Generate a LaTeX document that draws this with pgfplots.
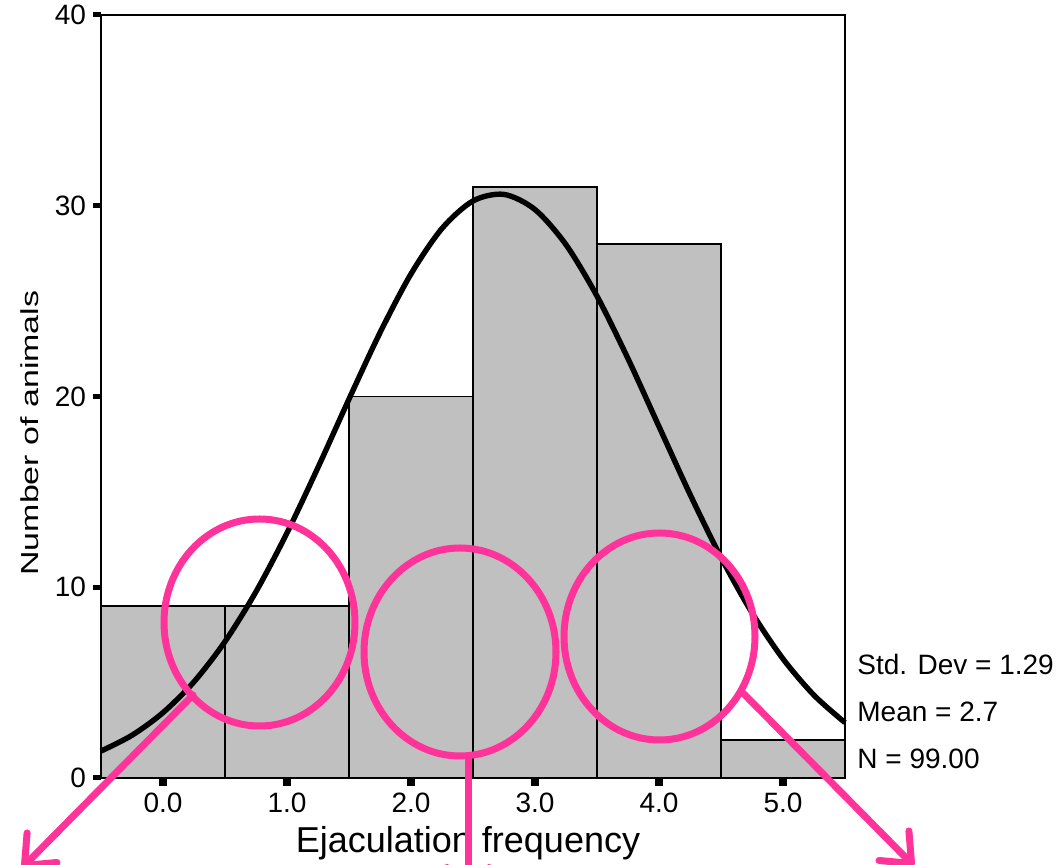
\documentclass[border=0pt]{standalone}
\usepackage{pgfplots}
\pgfplotsset{compat=1.18}
\usepackage{graphicx}
\usepackage{fontspec}
\setmainfont{Liberation Sans}
\usetikzlibrary{arrows.meta}
\definecolor{barg}{RGB}{192,192,192}
\definecolor{pinkc}{RGB}{255,51,153}
\begin{document}
\begin{tikzpicture}
\useasboundingbox (-50.5pt,-43.5pt) rectangle (479.5pt,389pt);
\begin{axis}[
  scale only axis, width=372pt, height=381.5pt,
  xmin=-0.5, xmax=5.5, ymin=0, ymax=40,
  xtick={0,1,2,3,4,5}, xticklabels={0.0,1.0,2.0,3.0,4.0,5.0},
  ytick={0,10,20,30,40},
  /pgf/number format/assume math mode=true,
  xtick pos=left, ytick pos=left,
  tick align=outside,
  major tick length=4pt,
  xtick style={black, line width=4.2pt},
  ytick style={black, line width=2.5pt},
  axis line style={black, line width=1pt},
  tick label style={font=\fontsize{14}{16}\selectfont},
  xlabel={Ejaculation frequency},
  ylabel={\scalebox{1.38}[1]{Number of animals}},
  xlabel style={font=\fontsize{18}{20}\selectfont, at={(axis description cs:0.4933,-0.0983)}, anchor=base},
  ylabel style={font=\fontsize{12.3}{14}\selectfont, at={(axis description cs:-0.0954,0.452)}, anchor=center, rotate=0},
  clip=false,
]
\addplot[ybar, bar width=1, fill=barg, draw=black, line width=0.9pt]
  coordinates {(0,9) (1,9) (2,20) (3,31) (4,28) (5,2)};
\addplot[black, line width=2.7pt, smooth] coordinates {
(-0.5,1.412) (-0.25,2.240) (0,3.426) (0.25,5.044) (0.5,7.152) (0.75,9.768)
(1.0,12.848) (1.25,16.279) (1.5,19.865) (1.75,23.344) (2.0,26.426) (2.25,28.810)
(2.5,30.251) (2.75,30.594) (3.0,29.800) (3.25,27.957) (3.5,25.261) (3.75,21.983)
(4.0,18.426) (4.25,14.875) (4.5,11.566) (4.75,8.661) (5.0,6.247) (5.25,4.339) (5.5,2.903)};
\end{axis}
\begin{scope}[x=0.5pt,y=-0.5pt,shift={(-101,-778)}]
\draw[pinkc, line width=3.5pt] (259.5,622.5) ellipse [x radius=47.75pt, y radius=51.75pt];
\draw[pinkc, line width=3.5pt] (460,652) ellipse [x radius=48pt, y radius=52pt];
\draw[pinkc, line width=3.5pt] (659.5,636.5) ellipse [x radius=47.75pt, y radius=51.75pt];
\draw[pinkc, line width=3.5pt, line cap=round, -{Straight Barb[length=12.5pt, width=21pt, round]}] (193,695) -- (22,868);
\draw[pinkc, line width=3.5pt, line cap=round, -{Straight Barb[length=12.5pt, width=21pt, round]}] (468,756) -- (468,896);
\draw[pinkc, line width=3.5pt, line cap=round, -{Straight Barb[length=12.5pt, width=21pt, round]}] (743,693) -- (914,866);
\node[anchor=base west, inner sep=0pt, font=\fontsize{14}{16}\selectfont] at (857,675) {Std. Dev = 1.29};
\node[anchor=base west, inner sep=0pt, font=\fontsize{14}{16}\selectfont] at (857,722) {Mean = 2.7};
\node[anchor=base west, inner sep=0pt, font=\fontsize{14}{16}\selectfont] at (857,769) {N = 99.00};
\end{scope}
\end{tikzpicture}
\end{document}
